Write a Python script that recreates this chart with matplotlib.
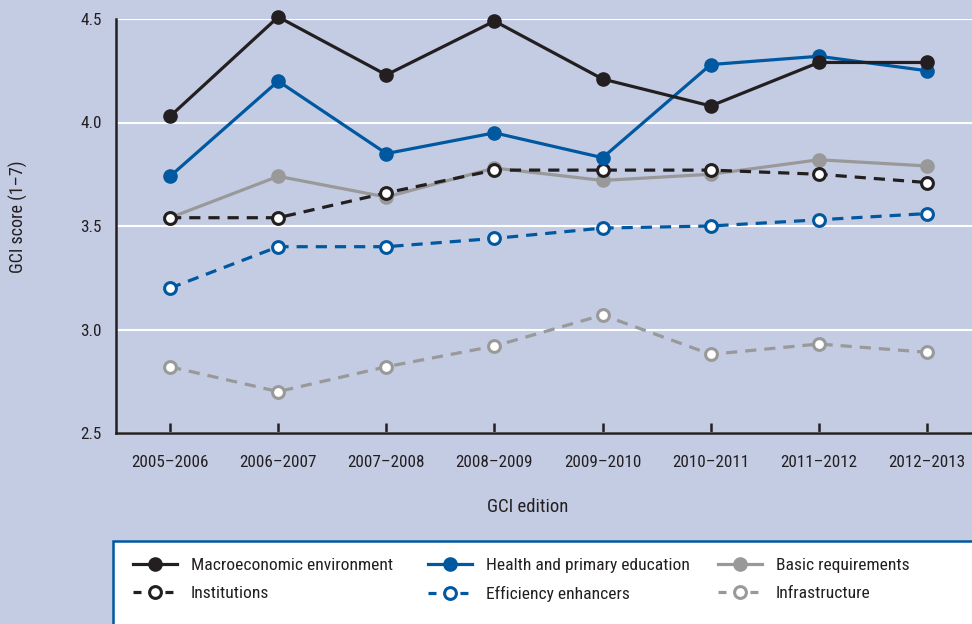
import matplotlib
matplotlib.use("Agg")
import matplotlib.pyplot as plt
from matplotlib.patches import Rectangle
from matplotlib.lines import Line2D

editions = ["2005–2006", "2006–2007", "2007–2008", "2008–2009",
            "2009–2010", "2010–2011", "2011–2012", "2012–2013"]
macro = [4.03, 4.51, 4.23, 4.49, 4.21, 4.08, 4.29, 4.29]
health = [3.74, 4.20, 3.85, 3.95, 3.83, 4.28, 4.32, 4.25]
basic = [3.54, 3.74, 3.64, 3.78, 3.72, 3.75, 3.82, 3.79]
institutions = [3.54, 3.54, 3.66, 3.77, 3.77, 3.77, 3.75, 3.71]
efficiency = [3.20, 3.40, 3.40, 3.44, 3.49, 3.50, 3.53, 3.56]
infrastructure = [2.82, 2.70, 2.82, 2.92, 3.07, 2.88, 2.93, 2.89]
yticks = [2.5, 3.0, 3.5, 4.0, 4.5]

plt.rcParams["font.family"] = ["Roboto Condensed", "Archivo Narrow", "DejaVu Sans"]

BG = "#C4CCE4"
BLACK = "#231F20"
BLUE = "#0058A0"
GRAY = "#999999"
TXT = "#231F20"

fig = plt.figure(figsize=(9.72, 6.24), dpi=100, facecolor=BG)
ax = fig.add_axes([116/972, 1-433/624, 1-116/972, (433-19)/624])
ax.set_facecolor(BG)

x = list(range(len(editions)))
lw = 2.3
ms = 9.5
dash = (3.5, 2.5)

def solid(vals, c, z):
    ax.plot(x, vals, color=c, lw=lw, marker="o", ms=ms, mfc=c, mec=c, zorder=z,
            clip_on=False)

def dashed(vals, c, z):
    ax.plot(x, vals, color=c, lw=lw, ls=(0, dash), marker="o", ms=8.5, mfc="white",
            mec=c, mew=2.2, zorder=z, clip_on=False)

dashed(infrastructure, GRAY, 3)
dashed(efficiency, BLUE, 3)
solid(basic, GRAY, 4)
dashed(institutions, BLACK, 5)
solid(health, BLUE, 6)
solid(macro, BLACK, 7)

ax.set_xlim(-0.5, 7.416)
ax.set_ylim(2.5, 4.5)
ax.set_yticks(yticks)
ax.set_yticklabels([f"{v:.1f}" for v in yticks])
ax.set_xticks(x)
ax.set_xticklabels(editions)
ax.grid(axis="y", color="white", lw=1.5, zorder=1)
ax.set_axisbelow(True)
for s in ["top", "right"]:
    ax.spines[s].set_visible(False)
for s in ["left", "bottom"]:
    ax.spines[s].set_color(BLACK)
    ax.spines[s].set_linewidth(1.8)
ax.tick_params(axis="x", direction="in", length=7, width=1.8, color=BLACK,
               pad=16, labelsize=12.3, labelcolor=TXT)
ax.tick_params(axis="y", length=0, pad=10, labelsize=12.3, labelcolor=TXT)
ax.set_xlabel("GCI edition", fontsize=13.5, color=TXT)
ax.set_ylabel("GCI score (1–7)", fontsize=13, color=TXT)
ax.xaxis.set_label_coords(0.481, -0.179)
ax.yaxis.set_label_coords(-0.1145, 0.522)
ax.xaxis.label.set_va("center")
ax.yaxis.label.set_va("center")

# legend box
fig.patches.append(Rectangle((113/972, -0.2), 1.0, 0.2 + (1-541/624),
                             transform=fig.transFigure, facecolor="white",
                             edgecolor=BLUE, lw=1.8, zorder=0))

def h_solid(c):
    return Line2D([], [], color=c, lw=lw, marker="o", ms=ms, mfc=c, mec=c)
def h_dash(c):
    return Line2D([], [], color=c, lw=lw, ls=(0, (2.5, 2.5)), marker="o", ms=8.5,
                  mfc="white", mec=c, mew=2.2)

cols = [
    ([h_solid(BLACK), h_dash(BLACK)], ["Macroeconomic environment", "Institutions"], 133),
    ([h_solid(BLUE), h_dash(BLUE)], ["Health and primary education", "Efficiency enhancers"], 428),
    ([h_solid(GRAY), h_dash(GRAY)], ["Basic requirements", "Infrastructure"], 718),
]
for hs, ls, px in cols:
    fig.legend(hs, ls, loc="upper left", bbox_to_anchor=(px/972, 1-558/624),
               frameon=False, fontsize=12.6, handlelength=2.5, handletextpad=0.8,
               labelspacing=0.72, borderpad=0, borderaxespad=0, labelcolor=TXT)

fig.savefig("out.png", dpi=100, facecolor=BG)
